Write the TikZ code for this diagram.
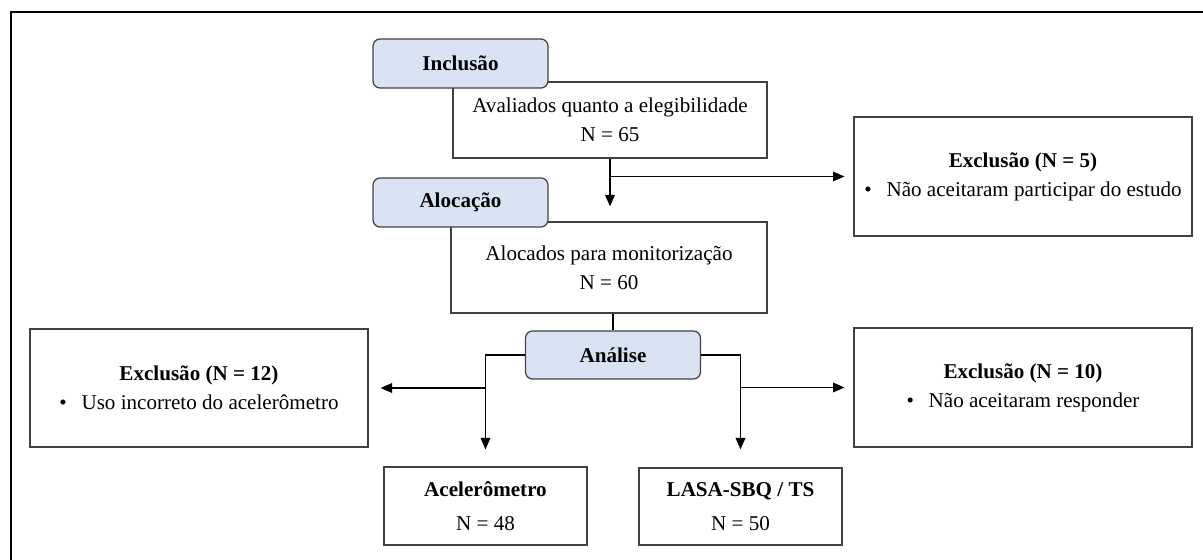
\documentclass[tikz,border=0pt]{standalone}
\usepackage{fontspec}
\setmainfont{Liberation Serif}
\usetikzlibrary{positioning,arrows.meta,calc}
\definecolor{azulclaro}{RGB}{218,227,243}
\definecolor{cinza}{RGB}{64,64,64}

\begin{document}
\begin{tikzpicture}[
      x=0.02cm,
      y=-0.02cm,
      every node/.style={
        font=\fontsize{12}{16.5}\selectfont
      },
      caixa/.style={
        draw=cinza,
        line width=0.7pt,
        fill=white,
        align=center,
        inner sep=0pt
      },
      etapa/.style={
        draw=cinza,
        line width=0.7pt,
        fill=azulclaro,
        rounded corners=4pt,
        minimum width=3.5cm,
        minimum height=0.98cm,
        font=\fontsize{12}{16.5}\selectfont\bfseries
      },
      arr/.style={
        ->,
        >={Triangle[length=6.5pt,width=5.5pt]},
        line width=0.75pt
      }
    ]
    \useasboundingbox (0,0) rectangle (1203,560) ;
    \draw[line width=1.7pt] (11,561) -- (11,12) -- (1204,12) ;

    % caixas
    \node[caixa, minimum width=6.28cm, minimum height=1.52cm] (aval) at (610,120)
      {Avaliados quanto a elegibilidade\\N = 65} ;
    \node[caixa, minimum width=6.32cm, minimum height=1.82cm] (aloc) at (609,267.5)
      {Alocados para monitorização\\N = 60} ;
    \node[caixa, minimum width=6.76cm, minimum height=2.38cm] (excl5) at (1023,176.5)
      {\textbf{Exclusão (N = 5)}\\\textbullet\hspace{0.7em}Não aceitaram participar do estudo} ;
    \node[caixa, minimum width=6.76cm, minimum height=2.36cm] (excl12) at (199,388)
      {\textbf{Exclusão (N = 12)}\\\textbullet\hspace{0.7em}Uso incorreto do acelerômetro} ;
    \node[caixa, minimum width=6.76cm, minimum height=2.38cm] (excl10) at (1023,387.5)
      {\textbf{Exclusão (N = 10)}\\\textbullet\hspace{0.7em}Não aceitaram responder} ;
    \node[caixa, minimum width=4.06cm, minimum height=1.56cm] (acel) at (485.5,506)
      {\textbf{Acelerômetro}\\[3pt]N = 48} ;
    \node[caixa, minimum width=4.06cm, minimum height=1.54cm] (lasa) at (740.5,506.5)
      {\textbf{LASA-SBQ / TS}\\[3pt]N = 50} ;

    % etapas
    \node[etapa] (incl) at (460.5,63.5) {Inclusão} ;
    \node[etapa] (aloct) at (460.5,202.5) {Alocação} ;
    \node[etapa, minimum height=0.96cm] (anal) at (613,355) {Análise} ;

    % setas
    \draw[arr, shorten >=0.3cm] (aval.south) -- (aval.south |- aloc.north) ;
    \draw[arr, shorten >=0.18cm] (aval.south |- excl5.west) -- (excl5.west) ;
    \draw[line width=0.75pt] (anal.north |- aloc.south) -- (anal.north) ;
    \draw[arr, shorten >=0.34cm] (anal.west) -| (acel.north) ;
    \draw[arr, shorten >=0.24cm] (acel.north |- excl12.east) -- (excl12.east) ;
    \draw[arr, shorten >=0.36cm] (anal.east) -| (lasa.north) ;
    \draw[arr, shorten >=0.18cm] (lasa.north |- excl10.west) -- (excl10.west) ;
  \end{tikzpicture}
\end{document}
